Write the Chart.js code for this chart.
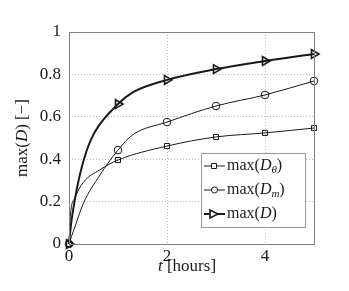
<!DOCTYPE html>
<html lang="en">
  <head>
    <meta charset="UTF-8" />
    <title>max(D) vs t</title>
    <script src="https://cdn.jsdelivr.net/npm/chart.js"></script>
    <style>
      html, body { margin: 0; padding: 0; background: #fff; }
      #wrap { position: relative; width: 349px; height: 291px; }
    </style>
  </head>
  <body>
    <div id="wrap"><canvas id="myChart" width="349" height="291"></canvas></div>
    <script>
      // values
      const xTicks = [0, 2, 4];
      const yTicks = [0, 0.2, 0.4, 0.6, 0.8, 1];

      const tTheta = [0, 0.03, 0.12, 0.29, 0.63, 1, 2, 3, 4, 5];
      const dTheta = [0, 0.14, 0.217, 0.29, 0.35, 0.396, 0.462, 0.505, 0.524, 0.547];

      const tM = [0, 0.05, 0.12, 0.29, 0.63, 1, 1.3, 2, 3, 4, 5];
      const dM = [0, 0.035, 0.08, 0.19, 0.325, 0.443, 0.515, 0.575, 0.651, 0.703, 0.769];

      const tD = [0, 0.04, 0.12, 0.22, 0.36, 0.53, 1, 1.3, 2, 3, 4, 5];
      const dD = [0, 0.09, 0.21, 0.325, 0.44, 0.53, 0.66, 0.715, 0.774, 0.825, 0.863, 0.896];

      const serif = "'Liberation Serif', 'DejaVu Serif', serif";
      const ink = "#1a1a1a";

      function pts(xs, ys) {
        return xs.map((x, i) => ({ x: x, y: ys[i] }));
      }
      // markers only at whole hours
      function markerAt(r) {
        return function (c) {
          const p = c.raw;
          return p && Number.isInteger(p.x) ? r : 0;
        };
      }

      function rich(ctx, parts, x, y, align) {
        let w = 0;
        parts.forEach(p => { ctx.font = p.f; w += ctx.measureText(p.t).width; });
        let cx = align === "center" ? x - w / 2 : x;
        parts.forEach(p => {
          ctx.font = p.f;
          ctx.fillText(p.t, cx, y + (p.dy || 0));
          cx += ctx.measureText(p.t).width;
        });
      }

      const F = "16px " + serif, FI = "italic 16px " + serif, FS = "italic 11px " + serif;
      const TF = "17px " + serif, TFI = "italic 17px " + serif;

      const extras = {
        id: "extras",
        afterDraw(chart) {
          const ctx = chart.ctx;
          const a = chart.chartArea;
          ctx.save();
          // axes box
          ctx.strokeStyle = "#808080";
          ctx.lineWidth = 1;
          ctx.strokeRect(a.left + 0.5, a.top + 0.5, a.right - a.left, a.bottom - a.top);

          ctx.fillStyle = ink;
          ctx.textBaseline = "middle";
          // x title
          rich(ctx, [{ t: "t", f: TFI }, { t: " [hours]", f: TF }], 187, 267, "center");
          // y title
          ctx.save();
          ctx.translate(23, 138);
          ctx.rotate(-Math.PI / 2);
          rich(ctx, [{ t: "max(", f: TF }, { t: "D", f: TFI }, { t: ") [\u2212]", f: TF }], 0, 0, "center");
          ctx.restore();

          // legend
          const lx = 201, ly = 153, lw = 104, lh = 74;
          ctx.fillStyle = "#fff";
          ctx.fillRect(lx, ly, lw, lh);
          ctx.strokeStyle = "#999";
          ctx.strokeRect(lx + 0.5, ly + 0.5, lw, lh);
          const rows = [
            { y: 166, lw: 1, m: "rect", sub: "\u03b8" },
            { y: 190, lw: 1, m: "circle", sub: "m" },
            { y: 214, lw: 2, m: "tri", sub: null }
          ];
          rows.forEach(r => {
            ctx.strokeStyle = ink;
            ctx.lineWidth = r.lw;
            ctx.beginPath();
            ctx.moveTo(204, r.y);
            ctx.lineTo(225, r.y);
            ctx.stroke();
            ctx.fillStyle = "#fff";
            ctx.lineWidth = r.lw === 2 ? 1.6 : 1;
            ctx.beginPath();
            if (r.m === "rect") {
              ctx.rect(211.5, r.y - 2.5, 5, 5);
            } else if (r.m === "circle") {
              ctx.arc(214.5, r.y, 3, 0, Math.PI * 2);
            } else {
              ctx.moveTo(210, r.y - 4);
              ctx.lineTo(218, r.y);
              ctx.lineTo(210, r.y + 4);
              ctx.closePath();
            }
            ctx.fill();
            ctx.stroke();
            ctx.fillStyle = ink;
            const parts = [{ t: "max(", f: F }, { t: "D", f: FI }];
            if (r.sub) parts.push({ t: r.sub, f: FS, dy: 4 });
            parts.push({ t: ")", f: F });
            rich(ctx, parts, 227, r.y, "left");
          });
          ctx.restore();
        }
      };

      const tickFont = { family: serif, size: 17 };

      new Chart(document.getElementById("myChart"), {
        type: "line",
        data: {
          datasets: [
            {
              label: "max(D_theta)",
              data: pts(tTheta, dTheta),
              borderColor: ink,
              borderWidth: 1,
              backgroundColor: "rgba(255,255,255,0)",
              pointStyle: "rect",
              pointRadius: markerAt(3.6),
              pointBorderWidth: 1,
              pointBorderColor: ink,
              cubicInterpolationMode: "monotone",
              clip: false
            },
            {
              label: "max(D_m)",
              data: pts(tM, dM),
              borderColor: ink,
              borderWidth: 1,
              backgroundColor: "rgba(255,255,255,0)",
              pointStyle: "circle",
              pointRadius: markerAt(3.8),
              pointBorderWidth: 1,
              pointBorderColor: ink,
              cubicInterpolationMode: "monotone",
              clip: false
            },
            {
              label: "max(D)",
              data: pts(tD, dD),
              borderColor: ink,
              borderWidth: 2,
              backgroundColor: "rgba(255,255,255,0)",
              pointStyle: "triangle",
              rotation: 90,
              pointRadius: markerAt(5),
              pointBorderWidth: 1.6,
              pointBorderColor: ink,
              cubicInterpolationMode: "monotone",
              clip: false
            }
          ]
        },
        options: {
          responsive: false,
          animation: false,
          layout: { padding: { left: 0, right: 35, top: 32, bottom: 0 } },
          plugins: { legend: { display: false }, tooltip: { enabled: false } },
          elements: { point: { hoverRadius: 0 } },
          scales: {
            x: {
              type: "linear",
              min: 0,
              max: 5,
              afterFit(s) { s.height = 47; },
              afterBuildTicks(s) { s.ticks = xTicks.map(v => ({ value: v })); },
              grid: { color: "#bdbdbd", drawTicks: false },
              border: { display: false, dash: [1, 2] },
              ticks: { color: ink, padding: 2, font: tickFont, callback: v => String(v) }
            },
            y: {
              min: 0,
              max: 1,
              afterFit(s) { s.width = 69; },
              afterBuildTicks(s) { s.ticks = yTicks.map(v => ({ value: v })); },
              grid: { color: "#bdbdbd", drawTicks: false },
              border: { display: false, dash: [1, 2] },
              ticks: { color: ink, padding: 8, font: tickFont, callback: v => String(v) }
            }
          }
        },
        plugins: [extras]
      });
    </script>
  </body>
</html>
